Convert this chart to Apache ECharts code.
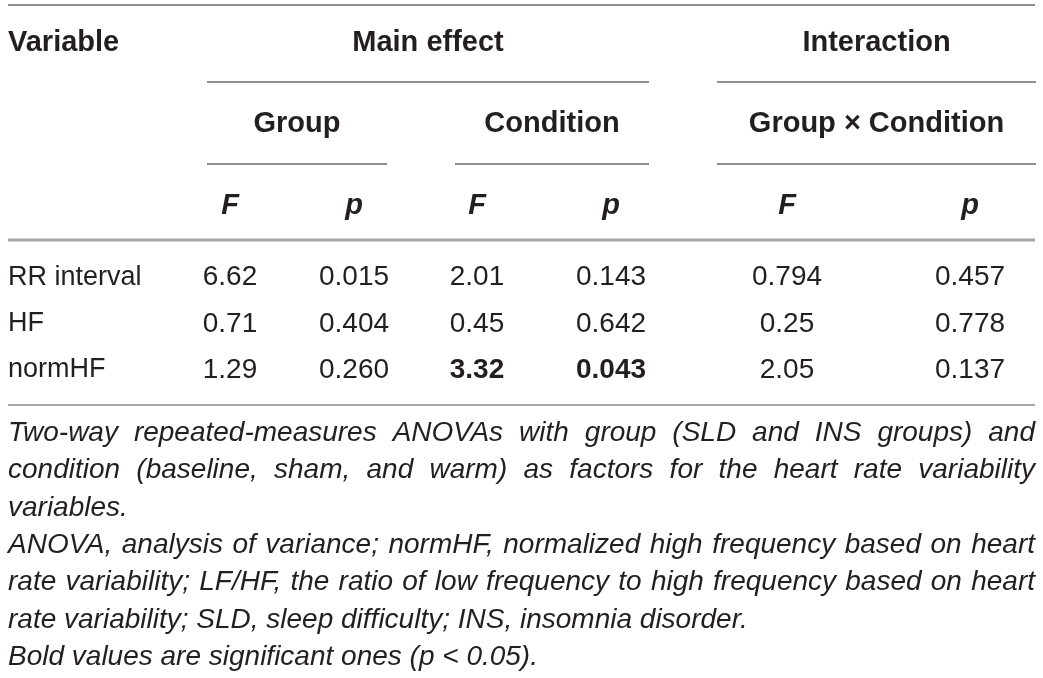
<!DOCTYPE html>
<html style="height: 100%">
<head>
<meta charset="utf-8">
</head>
<body style="width: 100%; height: 100%; margin: 0; background: #fff;">
<div id="container" style="width: 1043px; height: 678px"></div>
<script type="text/javascript" src="https://cdn.jsdelivr.net/npm/echarts@6/dist/echarts.min.js"></script>
<script type="text/javascript">
	// table values (kept as text so trailing zeros survive)
	var variables = ['RR interval', 'HF', 'normHF'];
	var groupF = ['6.62', '0.71', '1.29'];
	var groupP = ['0.015', '0.404', '0.260'];
	var conditionF = ['2.01', '0.45', '3.32'];
	var conditionP = ['0.143', '0.642', '0.043'];
	var interactionF = ['0.794', '0.25', '2.05'];
	var interactionP = ['0.457', '0.778', '0.137'];
	// significant cells: [row, column]
	var boldCells = [[2, 2], [2, 3]];

	var topHeaders = ['Main effect', 'Interaction'];
	var subHeaders = ['Group', 'Condition', 'Group \u00d7 Condition'];
	var statHeaders = ['F', 'p', 'F', 'p', 'F', 'p'];

	var notes = [
		'Two-way repeated-measures ANOVAs with group (SLD and INS groups) and',
		'condition (baseline, sham, and warm) as factors for the heart rate variability',
		'variables.',
		'ANOVA, analysis of variance; normHF, normalized high frequency based on heart',
		'rate variability; LF/HF, the ratio of low frequency to high frequency based on heart',
		'rate variability; SLD, sleep difficulty; INS, insomnia disorder.',
		'Bold values are significant ones (p < 0.05).'
	];
	var notesJustified = [true, true, false, true, true, false, false];

	var columns = [groupF, groupP, conditionF, conditionP, interactionF, interactionP];

	// layout
	var FONT = '"Liberation Sans", Arial, Helvetica, sans-serif';
	var INK = '#231f20';
	var LEFT = 8, RIGHT = 1035;
	var colX = [230, 354, 477, 611, 787, 970];
	var spans = [[207, 649], [717, 1036]];
	var subSpans = [[207, 387], [455, 649], [717, 1036]];
	var noteY0 = 433, noteStep = 37.4;
	var HEAD = 29, BODY = 27, NUM = 28, NOTE = 28;

	function isBold(r, c) {
		for (var i = 0; i < boldCells.length; i++) {
			if (boldCells[i][0] == r && boldCells[i][1] == c) return true;
		}
		return false;
	}

	function hline(x1, x2, y, w, color) {
		return {
			type: 'line',
			shape: { x1: x1, y1: y, x2: x2, y2: y },
			style: { stroke: color, lineWidth: w }
		};
	}

	function label(text, x, y, align, weight, style, size) {
		return {
			type: 'text',
			x: x,
			y: y,
			style: {
				text: text,
				fill: INK,
				font: (style || 'normal') + ' ' + (weight || 'normal') + ' ' + size + 'px ' + FONT,
				align: align,
				verticalAlign: 'middle'
			}
		};
	}

	var measureCtx = document.createElement('canvas').getContext('2d');

	function noteLine(text, y, justify) {
		if (!justify) return [label(text, LEFT, y, 'left', 'normal', 'italic', NOTE)];
		measureCtx.font = 'italic normal ' + NOTE + 'px ' + FONT;
		var words = text.split(' ');
		var total = 0;
		var widths = words.map(function (w) {
			var m = measureCtx.measureText(w).width;
			total += m;
			return m;
		});
		var gap = (RIGHT - LEFT - total) / (words.length - 1);
		var out = [];
		var x = LEFT;
		for (var i = 0; i < words.length; i++) {
			out.push(label(words[i], x, y, 'left', 'normal', 'italic', NOTE));
			x += widths[i] + gap;
		}
		return out;
	}

	var elements = [];
	// rules
	elements.push(hline(LEFT, RIGHT, 5, 2, '#8f8f8f'));
	spans.forEach(function (s) { elements.push(hline(s[0], s[1], 82, 2, '#8f8f8f')); });
	subSpans.forEach(function (s) { elements.push(hline(s[0], s[1], 164, 2, '#8f8f8f')); });
	elements.push(hline(LEFT, RIGHT, 240, 3, '#a6a6a6'));
	elements.push(hline(LEFT, RIGHT, 405, 2, '#a6a6a6'));

	// header text
	elements.push(label('Variable', LEFT, 43, 'left', 'bold', 'normal', HEAD));
	topHeaders.forEach(function (t, i) {
		elements.push(label(t, (spans[i][0] + spans[i][1]) / 2, 43, 'center', 'bold', 'normal', HEAD));
	});
	subHeaders.forEach(function (t, i) {
		elements.push(label(t, (subSpans[i][0] + subSpans[i][1]) / 2, 124, 'center', 'bold', 'normal', HEAD));
	});
	statHeaders.forEach(function (t, i) {
		elements.push(label(t, colX[i], 206, 'center', 'bold', 'italic', HEAD));
	});

	// footnotes
	notes.forEach(function (t, i) {
		elements = elements.concat(noteLine(t, noteY0 + i * noteStep, notesJustified[i]));
	});

	var series = columns.map(function (vals, c) {
		return {
			type: 'scatter',
			symbolSize: 2,
			silent: true,
			itemStyle: { color: 'rgba(255,255,255,0)' },
			emphasis: { disabled: true },
			data: vals.map(function (v, r) {
				return {
					value: [colX[c], r],
					label: {
						color: INK,
						opacity: 1,
						fontWeight: isBold(r, c) ? 'bold' : 'normal'
					}
				};
			}),
			label: {
				show: true,
				position: [1, 1.5],
				align: 'center',
				verticalAlign: 'middle',
				color: INK,
				opacity: 1,
				textBorderWidth: 0,
				fontFamily: FONT,
				fontSize: NUM,
				formatter: function (p) { return vals[p.dataIndex]; }
			}
		};
	});

	var dom = document.getElementById('container');
	var myChart = echarts.init(dom, null, { renderer: 'canvas' });
	var option = {
		backgroundColor: '#fff',
		animation: false,
		grid: { left: 0, right: 0, top: 254, height: 139 },
		xAxis: { type: 'value', min: 0, max: 1043, show: false },
		yAxis: {
			type: 'category',
			data: variables,
			inverse: true,
			axisLine: { show: false },
			axisTick: { show: false },
			splitLine: { show: false },
			axisLabel: {
				inside: true,
				margin: LEFT,
				color: INK,
				fontFamily: FONT,
				fontSize: BODY
			}
		},
		graphic: { elements: elements },
		series: series
	};
	myChart.setOption(option);
</script>
</body>
</html>
